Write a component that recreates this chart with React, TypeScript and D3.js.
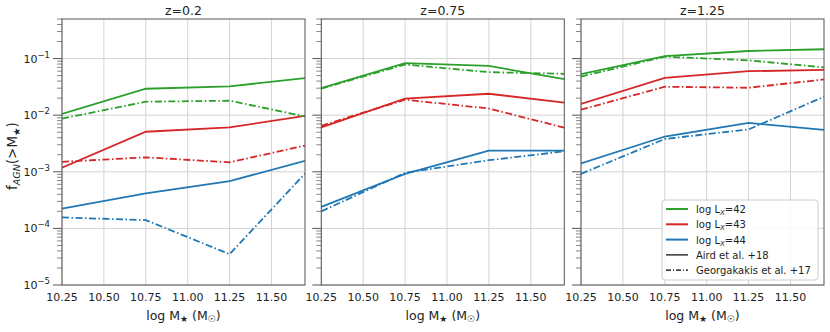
import React from 'react';
import * as d3 from 'd3';

// stellar mass bins (log Msun), last point at the right edge of the axes
const massBins = [10.25, 10.75, 11.25, 11.7];
const xTicks = [10.25, 10.5, 10.75, 11.0, 11.25, 11.5];
const yDecades = [-5, -4, -3, -2, -1];
const redshifts = ['z=0.2', 'z=0.75', 'z=1.25'];

// Aird et al. +18 (solid)
const aird02_42 = [0.0105, 0.0293, 0.0323, 0.045];
const aird02_43 = [0.00118, 0.0051, 0.0061, 0.0097];
const aird02_44 = [0.000224, 0.000416, 0.000684, 0.00156];
const aird075_42 = [0.030, 0.083, 0.074, 0.0434];
const aird075_43 = [0.0061, 0.0196, 0.0239, 0.0166];
const aird075_44 = [0.00024, 0.00092, 0.00237, 0.00237];
const aird125_42 = [0.053, 0.11, 0.136, 0.146];
const aird125_43 = [0.0158, 0.0457, 0.0598, 0.063];
const aird125_44 = [0.0014, 0.0042, 0.0073, 0.0055];

// Georgakakis et al. +17 (dash-dot)
const geo02_42 = [0.0087, 0.0173, 0.018, 0.0095];
const geo02_43 = [0.0015, 0.0018, 0.00147, 0.0029];
const geo02_44 = [0.000156, 0.00014, 0.000035, 0.00093];
const geo075_42 = [0.0295, 0.0785, 0.0575, 0.0537];
const geo075_43 = [0.0065, 0.0188, 0.0131, 0.006];
const geo075_44 = [0.0002, 0.00096, 0.0016, 0.0023];
const geo125_42 = [0.048, 0.108, 0.093, 0.070];
const geo125_43 = [0.0125, 0.0318, 0.0305, 0.0428];
const geo125_44 = [0.00092, 0.0038, 0.0056, 0.0212];

const green = '#2ca02c';
const red = '#d62728';
const blue = '#1f77b4';
const dashDot = '7,2.5,1.5,2.5';

const panels = [
  { title: redshifts[0], aird: [aird02_42, aird02_43, aird02_44], geo: [geo02_42, geo02_43, geo02_44] },
  { title: redshifts[1], aird: [aird075_42, aird075_43, aird075_44], geo: [geo075_42, geo075_43, geo075_44] },
  { title: redshifts[2], aird: [aird125_42, aird125_43, aird125_44], geo: [geo125_42, geo125_43, geo125_44] },
];
const colors = [green, red, blue];
const legendLabels = ['42', '43', '44'];

const width = 830;
const height = 332;
const top = 19;
const bottom = 285;
const panelLeft = [62, 321.3, 581];
const panelWidth = 243;
const font = 'DejaVu Sans, sans-serif';

function Panel(props: { idx: number }) {
  const p = panels[props.idx];
  const x0 = panelLeft[props.idx];
  const xScale = d3.scaleLinear().domain([10.25, 11.7]).range([x0, x0 + panelWidth]);
  const yScale = d3.scaleLog().domain([1e-5, 0.5]).range([bottom, top]);
  const line = d3.line<number>()
    .x((d, i) => xScale(massBins[i]))
    .y(d => yScale(d));

  const minor: number[] = [];
  for (let e = -5; e <= -1; e++) {
    for (let k = 2; k <= 9; k++) {
      const v = k * Math.pow(10, e);
      if (v <= 0.5) minor.push(v);
    }
  }
  const clipId = 'clip' + props.idx;

  return (
    <g>
      <defs>
        <clipPath id={clipId}>
          <rect x={x0} y={top} width={panelWidth} height={bottom - top} />
        </clipPath>
      </defs>
      {/* grid */}
      {xTicks.map(t => (
        <line key={'gx' + t} x1={xScale(t)} x2={xScale(t)} y1={top} y2={bottom} stroke="#d3d3d3" strokeWidth={1} />
      ))}
      {yDecades.map(e => (
        <line key={'gy' + e} x1={x0} x2={x0 + panelWidth} y1={yScale(Math.pow(10, e))} y2={yScale(Math.pow(10, e))} stroke="#d3d3d3" strokeWidth={1} />
      ))}
      {/* series */}
      <g clipPath={`url(#${clipId})`}>
        {p.aird.map((s, i) => (
          <path key={'a' + i} d={line(s) || ''} fill="none" stroke={colors[i]} strokeWidth={1.8} />
        ))}
        {p.geo.map((s, i) => (
          <path key={'g' + i} d={line(s) || ''} fill="none" stroke={colors[i]} strokeWidth={1.8} strokeDasharray={dashDot} />
        ))}
      </g>
      {/* frame */}
      <rect x={x0} y={top} width={panelWidth} height={bottom - top} fill="none" stroke="#555" strokeWidth={1} />
      {/* y ticks */}
      {yDecades.map(e => (
        <line key={'ty' + e} x1={x0 - 9} x2={x0} y1={yScale(Math.pow(10, e))} y2={yScale(Math.pow(10, e))} stroke="#555" strokeWidth={1} />
      ))}
      {minor.map(v => (
        <line key={'tm' + v} x1={x0 - 5} x2={x0} y1={yScale(v)} y2={yScale(v)} stroke="#555" strokeWidth={0.7} />
      ))}
      {props.idx === 0 && yDecades.map(e => (
        <text key={'ly' + e} x={x0 - 12} y={yScale(Math.pow(10, e)) + 4} textAnchor="end" fontFamily={font} fontSize={11} fill="#222">
          10<tspan dy={-5} fontSize={8.5}>{'\u2212' + Math.abs(e)}</tspan>
        </text>
      ))}
      {/* x tick labels */}
      {xTicks.map(t => (
        <text key={'lx' + t} x={xScale(t)} y={bottom + 16} textAnchor="middle" fontFamily={font} fontSize={11} fill="#222">
          {d3.format('.2f')(t)}
        </text>
      ))}
      <text x={x0 + panelWidth / 2} y={bottom + 35} textAnchor="middle" fontFamily={font} fontSize={12.5} fill="#222">
        log M<tspan fontSize={9} dy={2}>★</tspan><tspan dy={-2}> (M</tspan><tspan fontSize={9} dy={2}>☉</tspan><tspan dy={-2}>)</tspan>
      </text>
      <text x={x0 + panelWidth / 2} y={15} textAnchor="middle" fontFamily={font} fontSize={12.5} fill="#222">
        {p.title}
      </text>
    </g>
  );
}

function Legend() {
  const lx = 662;
  const ly = 200;
  const rows = 5;
  const rowH = 15.3;
  return (
    <g>
      <rect x={lx} y={ly} width={156} height={80} rx={3} fill="white" fillOpacity={0.85} stroke="#ccc" strokeWidth={1} />
      {legendLabels.map((l, i) => (
        <g key={l}>
          <line x1={lx + 4} x2={lx + 26} y1={ly + 9 + i * rowH} y2={ly + 9 + i * rowH} stroke={colors[i]} strokeWidth={2} />
          <text x={lx + 34} y={ly + 13 + i * rowH} fontFamily={font} fontSize={10} fill="#222">
            log L<tspan fontSize={7} dy={2} fontStyle="italic">X</tspan><tspan dy={-2}>={l}</tspan>
          </text>
        </g>
      ))}
      <line x1={lx + 4} x2={lx + 26} y1={ly + 9 + 3 * rowH} y2={ly + 9 + 3 * rowH} stroke="#000" strokeWidth={1.2} />
      <text x={lx + 34} y={ly + 13 + 3 * rowH} fontFamily={font} fontSize={10} fill="#222">Aird et al. +18</text>
      <line x1={lx + 4} x2={lx + 26} y1={ly + 9 + 4 * rowH} y2={ly + 9 + 4 * rowH} stroke="#000" strokeWidth={1.2} strokeDasharray="5,2,1,2" />
      <text x={lx + 34} y={ly + 13 + (rows - 1) * rowH} fontFamily={font} fontSize={10} fill="#222">Georgakakis et al. +17</text>
    </g>
  );
}

export default function App() {
  return (
    <svg width={width} height={height} style={{ position: 'absolute', left: 0, top: 0, background: 'white' }}>
      <rect x={0} y={0} width={width} height={height} fill="white" />
      {panels.map((p, i) => <Panel key={p.title} idx={i} />)}
      <Legend />
      <text transform={`translate(17,${(top + bottom) / 2 + 4}) rotate(-90)`} textAnchor="middle" fontFamily={font} fontSize={13.5} fill="#222">
        f<tspan fontSize={9.5} dy={3} fontStyle="italic">AGN</tspan><tspan dy={-3}>(&gt;M</tspan><tspan fontSize={9.5} dy={3}>★</tspan><tspan dy={-3}>)</tspan>
      </text>
    </svg>
  );
}
